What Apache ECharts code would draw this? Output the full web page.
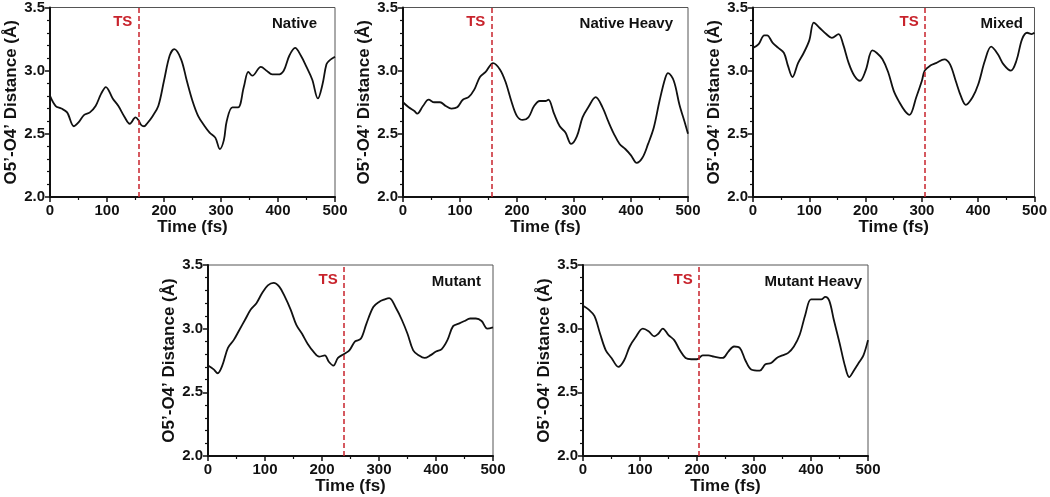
<!DOCTYPE html>
<html>
<head>
<meta charset="utf-8">
<script src="https://cdn.jsdelivr.net/npm/echarts@6/dist/echarts.min.js"></script>
<style>
html,body{margin:0;padding:0;background:#fff;}
#c{width:1050px;height:497px;}
</style>
</head>
<body>
<div id="c"></div>
<script>
// ---- Data ----
const panelNames = ['Native', 'Native Heavy', 'Mixed', 'Mutant', 'Mutant Heavy'];
const tsTimes = [155, 155, 305, 238, 203];
const xTicks = ['0', '100', '200', '300', '400', '500'];
const yTicks = ['2.0', '2.5', '3.0', '3.5'];

const nativeT = [0,10,20,30,42,50,60,70,80,90,98,110,120,130,140,150,155,160,165,170,180,190,200,210,218,230,240,250,260,270,280,290,298,305,310,320,330,340,348,355,370,380,390,400,410,420,430,440,450,460,470,478,485,490,500];
const nativeD = [2.80,2.72,2.70,2.67,2.56,2.59,2.65,2.67,2.72,2.82,2.87,2.78,2.72,2.64,2.58,2.63,2.61,2.57,2.56,2.58,2.64,2.72,2.92,3.12,3.17,3.09,2.92,2.76,2.64,2.57,2.51,2.47,2.38,2.45,2.60,2.71,2.71,2.87,2.99,2.96,3.03,3.00,2.97,2.97,3.00,3.12,3.18,3.12,3.03,2.93,2.78,2.89,3.05,3.08,3.11];

const nativeHeavyT = [0,10,20,25,35,45,55,65,75,85,95,105,115,125,135,145,158,170,180,190,200,210,220,230,240,250,255,265,275,285,295,305,315,325,338,350,360,370,380,390,400,410,420,430,440,450,460,465,475,485,495,500];
const nativeHeavyD = [2.75,2.71,2.68,2.66,2.72,2.77,2.75,2.75,2.72,2.70,2.71,2.77,2.79,2.85,2.95,2.99,3.06,3.01,2.91,2.76,2.64,2.61,2.63,2.72,2.76,2.76,2.77,2.66,2.56,2.51,2.42,2.48,2.63,2.71,2.79,2.71,2.60,2.50,2.42,2.38,2.33,2.27,2.31,2.42,2.55,2.76,2.94,2.98,2.92,2.73,2.58,2.50];

const mixedT = [0,10,20,25,35,45,55,62,70,80,90,100,108,118,130,140,152,160,170,180,190,200,212,220,230,240,250,260,270,278,290,300,305,315,325,340,350,360,370,378,390,400,412,423,435,445,458,468,478,487,495,500];
const mixedD = [3.18,3.21,3.28,3.28,3.22,3.18,3.14,3.04,2.95,3.06,3.14,3.24,3.38,3.34,3.29,3.26,3.29,3.21,3.06,2.96,2.92,3.00,3.16,3.14,3.09,2.99,2.84,2.75,2.68,2.65,2.79,2.92,3.00,3.04,3.06,3.09,3.05,2.92,2.79,2.73,2.79,2.89,3.08,3.19,3.13,3.05,3.00,3.08,3.25,3.30,3.29,3.30];

const mutantT = [0,10,17,25,35,45,55,65,75,85,95,105,115,125,135,145,155,165,175,185,195,205,212,220,228,238,248,258,268,278,290,300,310,318,330,340,350,360,370,380,390,400,410,420,430,440,450,460,470,480,490,500];
const mutantD = [2.71,2.68,2.65,2.71,2.85,2.91,2.99,3.07,3.15,3.20,3.28,3.34,3.36,3.33,3.25,3.15,3.03,2.96,2.88,2.82,2.78,2.79,2.74,2.71,2.77,2.80,2.83,2.90,2.92,3.04,3.17,3.21,3.23,3.24,3.16,3.07,2.96,2.83,2.79,2.77,2.79,2.82,2.84,2.91,3.02,3.04,3.06,3.08,3.08,3.06,3.00,3.01];

const mutantHeavyT = [0,10,20,30,40,50,62,72,82,92,105,115,125,132,140,150,160,170,180,190,200,210,220,230,245,255,265,275,285,295,310,320,330,340,350,360,370,380,390,400,410,418,425,432,440,450,460,467,475,485,492,500];
const mutantHeavyD = [3.18,3.15,3.10,2.96,2.83,2.77,2.70,2.75,2.86,2.93,3.00,2.98,2.94,2.96,3.00,2.95,2.91,2.83,2.77,2.76,2.76,2.79,2.79,2.78,2.77,2.82,2.86,2.85,2.75,2.68,2.67,2.72,2.73,2.77,2.79,2.81,2.86,2.95,3.11,3.23,3.23,3.23,3.25,3.22,3.07,2.89,2.70,2.62,2.67,2.74,2.79,2.91];

const seriesT = [nativeT, nativeHeavyT, mixedT, mutantT, mutantHeavyT];
const seriesD = [nativeD, nativeHeavyD, mixedD, mutantD, mutantHeavyD];

// ---- Layout ----
const grids = [
  {left: 50,  top: 7,   width: 285, height: 190},
  {left: 403, top: 7,   width: 285, height: 190},
  {left: 753, top: 7,   width: 285, height: 190},
  {left: 208, top: 265, width: 285, height: 191},
  {left: 583, top: 265, width: 285, height: 191}
];
const nameRight = [18, 15, 15, 12, 6];

const FONT = 'Liberation Sans, Arial, Helvetica, sans-serif';
const TS_COLOR = '#c8232c';

const chart = echarts.init(document.getElementById('c'), null, {renderer: 'canvas'});

const xMin = +xTicks[0], xMax = +xTicks[xTicks.length - 1];
const yMin = +yTicks[0], yMax = +yTicks[yTicks.length - 1];

const option = {
  animation: false,
  backgroundColor: '#fff',
  grid: grids.map(g => Object.assign({show: true, borderColor: '#555', borderWidth: 1, containLabel: false}, g)),
  xAxis: grids.map((g, i) => ({
    type: 'value', gridIndex: i, min: xMin, max: xMax, interval: 100,
    name: 'Time (fs)', nameLocation: 'middle', nameGap: 21,
    nameTextStyle: {fontFamily: FONT, fontWeight: 'bold', fontSize: 17, color: '#111'},
    axisLine: {show: true, onZero: false, lineStyle: {color: '#111', width: 2}},
    axisTick: {show: true, inside: false, length: 5, lineStyle: {color: '#111', width: 1.5}},
    minorTick: {show: true, splitNumber: 2, length: 3, lineStyle: {color: '#111', width: 1.2}},
    axisLabel: {margin: 6, fontFamily: FONT, fontWeight: 'bold', fontSize: 15, color: '#111'},
    splitLine: {show: false}
  })),
  yAxis: grids.map((g, i) => ({
    type: 'value', gridIndex: i, min: yMin, max: yMax, interval: 0.5,
    name: 'O5\u2019-O4\u2019 Distance (\u00C5)', nameLocation: 'middle', nameGap: 30, nameRotate: 90,
    nameTextStyle: {fontFamily: FONT, fontWeight: 'bold', fontSize: 17, color: '#111'},
    axisLine: {show: true, onZero: false, lineStyle: {color: '#111', width: 2}},
    axisTick: {show: true, inside: false, length: 5, lineStyle: {color: '#111', width: 1.5}},
    minorTick: {show: true, splitNumber: 5, length: 3, lineStyle: {color: '#111', width: 1.2}},
    axisLabel: {margin: 5, fontFamily: FONT, fontWeight: 'bold', fontSize: 15, color: '#111',
      formatter: v => v.toFixed(1)},
    splitLine: {show: false}
  })),
  graphic: grids.map((g, i) => ({
    type: 'text',
    right: 1050 - (g.left + g.width) + nameRight[i],
    top: g.top + 9,
    style: {text: panelNames[i], font: 'bold 15px ' + FONT, fill: '#111'}
  })),
  series: grids.map((g, i) => ({
    type: 'line', xAxisIndex: i, yAxisIndex: i,
    data: seriesT[i].map((t, k) => [t, seriesD[i][k]]),
    smooth: 0.35, showSymbol: false, symbol: 'none',
    lineStyle: {color: '#111', width: 1.8},
    markLine: {
      silent: true, symbol: 'none',
      label: {show: false},
      lineStyle: {color: TS_COLOR, type: [5, 3], width: 1.5},
      data: [{xAxis: tsTimes[i]}]
    },
    markPoint: {
      silent: true, symbol: 'circle', symbolSize: 0,
      data: [{coord: [tsTimes[i], 3.385], value: 'TS'}],
      label: {show: true, position: 'left', distance: 6, formatter: 'TS',
        fontFamily: FONT, fontWeight: 'bold', fontSize: 15, color: TS_COLOR}
    }
  }))
};
chart.setOption(option);
</script>
</body>
</html>
